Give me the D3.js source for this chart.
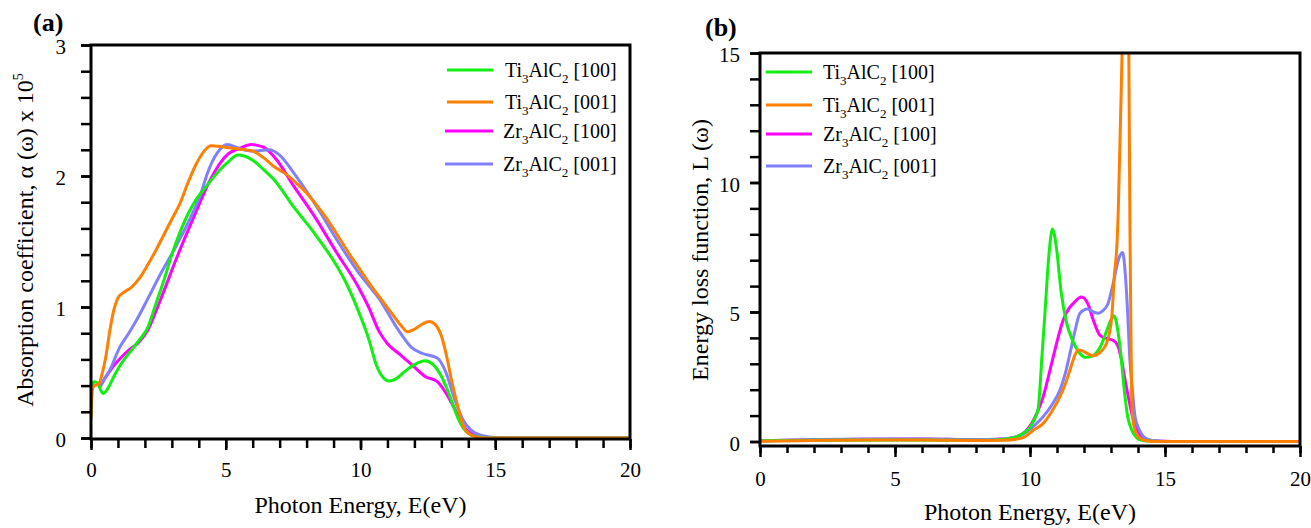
<!DOCTYPE html>
<html>
<head>
<meta charset="utf-8">
<script src="https://cdn.jsdelivr.net/npm/d3@7"></script>
<style>
  body { margin: 0; background: #fff; }
  svg { display: block; }
  text { font-family: "Liberation Serif", "Times New Roman", serif; fill: #000; }
</style>
</head>
<body>
<svg id="chart" width="1311" height="528"></svg>
<script>
// Legend labels: alternating normal / subscript pieces
const legendLabels = [
  ["Ti", "3", "AlC", "2", " [100]"],
  ["Ti", "3", "AlC", "2", " [001]"],
  ["Zr", "3", "AlC", "2", " [100]"],
  ["Zr", "3", "AlC", "2", " [001]"]
];
const seriesColors = ["#12ee12", "#ff7f00", "#ff00ff", "#8080ff"];
const drawOrder = [2, 3, 0, 1];

const xMajorTicks = [0, 5, 10, 15, 20];
const absYTicks = [0, 1, 2, 3];
const elfYTicks = [0, 5, 10, 15];

// (a) Absorption coefficient (x 10^5 cm^-1) vs photon energy (eV)
const absTi100 = [[0,0.17],[0.05,0.40],[0.12,0.43],[0.25,0.42],[0.35,0.37],[0.46,0.34],[0.6,0.37],[0.9,0.49],
  [1.2,0.59],[1.5,0.67],[1.8,0.75],[2.1,0.84],[2.4,1.02],[2.7,1.20],[3.0,1.40],[3.3,1.57],[3.6,1.71],[3.9,1.82],
  [4.2,1.90],[4.5,1.98],[4.8,2.05],[5.1,2.11],[5.45,2.16],[6.0,2.12],[6.4,2.05],[6.8,1.97],[7.5,1.77],[8.3,1.56],
  [9.1,1.32],[9.5,1.17],[9.9,0.98],[10.3,0.76],[10.6,0.55],[10.85,0.46],[11.05,0.435],[11.3,0.45],[11.6,0.50],
  [12.0,0.56],[12.4,0.59],[12.7,0.56],[12.95,0.49],[13.2,0.38],[13.4,0.27],[13.6,0.16],[13.8,0.08],[14.0,0.035],
  [14.3,0.01],[14.7,0],[20,0]];
const absTi001 = [[0,0.15],[0.05,0.37],[0.12,0.40],[0.28,0.41],[0.4,0.48],[0.55,0.62],[0.7,0.82],[0.85,0.98],
  [1.0,1.07],[1.2,1.11],[1.5,1.15],[1.8,1.22],[2.1,1.32],[2.4,1.43],[2.7,1.55],[3.0,1.67],[3.3,1.79],[3.6,1.95],
  [3.9,2.09],[4.2,2.19],[4.45,2.23],[4.8,2.225],[5.1,2.215],[5.5,2.205],[6.0,2.19],[6.4,2.14],[6.8,2.07],[7.2,2.02],
  [7.6,1.95],[8.0,1.87],[8.4,1.77],[8.8,1.66],[9.2,1.53],[9.6,1.40],[10.0,1.28],[10.4,1.16],[10.8,1.05],[11.2,0.94],
  [11.5,0.86],[11.75,0.81],[12.0,0.83],[12.3,0.87],[12.55,0.89],[12.8,0.86],[13.0,0.78],[13.2,0.62],[13.4,0.42],
  [13.6,0.25],[13.8,0.10],[14.0,0.035],[14.3,0.008],[14.6,0],[20,0]];
const absZr100 = [[0.3,0.38],[0.5,0.45],[0.8,0.54],[1.1,0.61],[1.4,0.67],[1.77,0.73],[2.1,0.82],[2.55,1.04],
  [3.17,1.37],[3.8,1.68],[4.4,1.96],[4.8,2.10],[5.1,2.17],[5.5,2.21],[5.95,2.24],[6.4,2.22],[6.9,2.12],[7.5,1.93],
  [8.3,1.69],[9.1,1.42],[9.9,1.16],[10.3,1.00],[10.7,0.81],[11.0,0.72],[11.45,0.64],[11.9,0.56],[12.4,0.47],
  [12.85,0.43],[13.15,0.35],[13.5,0.22],[13.8,0.095],[14.1,0.035],[14.4,0.012],[14.8,0.003],[15.2,0],[20,0]];
const absZr001 = [[0.3,0.38],[0.5,0.45],[0.7,0.52],[1.06,0.69],[1.4,0.80],[1.77,0.93],[2.1,1.06],[2.55,1.24],
  [3.17,1.47],[3.8,1.73],[4.1,1.88],[4.3,2.01],[4.5,2.11],[4.7,2.18],[5.05,2.24],[5.5,2.21],[6.0,2.19],[6.6,2.20],
  [7.0,2.16],[7.5,2.03],[8.3,1.79],[9.1,1.52],[9.9,1.27],[10.7,1.06],[11.45,0.81],[11.9,0.69],[12.3,0.645],
  [12.85,0.61],[13.15,0.51],[13.5,0.29],[13.8,0.14],[14.1,0.06],[14.4,0.025],[14.9,0.005],[15.3,0],[20,0]];

// (b) Energy loss function L(ω) vs photon energy (eV)
const elfTi100 = [[0,0.03],[2,0.05],[5,0.06],[7,0.05],[8.5,0.05],[9.0,0.08],[9.5,0.18],[9.8,0.35],[10.0,0.55],
  [10.2,0.95],[10.3,1.25],[10.45,3.4],[10.55,4.9],[10.7,7.2],[10.83,8.2],[10.92,7.9],[11.0,7.3],[11.15,5.8],
  [11.35,4.6],[11.6,3.85],[11.85,3.4],[12.05,3.25],[12.3,3.3],[12.6,3.65],[12.85,4.3],[13.0,4.7],[13.12,4.85],
  [13.25,4.3],[13.35,3.5],[13.5,1.9],[13.62,0.95],[13.77,0.44],[13.95,0.15],[14.1,0.06],[14.4,0.02],[15,0],[20,0]];
const elfTi001 = [[0,0.01],[2,0.04],[4,0.06],[6,0.06],[8,0.04],[9.0,0.05],[9.7,0.13],[10.15,0.45],[10.49,0.70],
  [10.8,1.15],[11.11,1.73],[11.3,2.2],[11.48,2.76],[11.65,3.3],[11.79,3.53],[11.95,3.5],[12.15,3.38],[12.34,3.31],
  [12.6,3.45],[12.84,3.8],[13.03,4.82],[13.12,6.36],[13.23,7.8],[13.27,8.94],[13.41,15],[13.55,22],[13.66,15],
  [13.7,8.5],[13.74,4.0],[13.77,1.5],[13.85,0.6],[14.0,0.2],[14.19,0.06],[14.5,0.01],[15,0],[20,0]];
const elfZr100 = [[0,0.03],[2,0.07],[4,0.09],[6,0.1],[8,0.07],[9.0,0.1],[9.4,0.15],[9.85,0.4],[10.3,1.2],
  [10.49,1.73],[10.68,2.5],[10.86,3.27],[11.05,4.05],[11.23,4.69],[11.45,5.15],[11.6,5.33],[11.91,5.58],
  [12.15,5.3],[12.34,4.7],[12.59,4.1],[12.84,3.98],[13.09,3.9],[13.25,3.7],[13.4,3.1],[13.5,2.5],[13.64,1.73],
  [13.8,0.95],[13.95,0.44],[14.15,0.15],[14.46,0.04],[15,0.01],[15.5,0],[20,0]];
const elfZr001 = [[0,0.03],[2,0.08],[4,0.1],[6,0.1],[8,0.07],[9.0,0.1],[9.7,0.26],[10.15,0.6],[10.49,0.96],
  [10.8,1.4],[11.11,1.99],[11.3,2.6],[11.48,3.4],[11.65,4.2],[11.85,4.95],[12.12,5.12],[12.35,5.0],[12.53,4.95],
  [12.7,5.05],[12.88,5.3],[13.08,6.1],[13.3,7.1],[13.43,7.3],[13.52,6.6],[13.6,5.3],[13.7,3.15],[13.8,1.9],
  [13.89,0.96],[14.05,0.45],[14.2,0.19],[14.4,0.07],[14.8,0.02],[15.3,0],[20,0]];

const svg = d3.select("#chart");

function drawPanel(p) {
  const x = d3.scaleLinear().domain([0, 20]).range([p.left, p.right]);
  const y = d3.scaleLinear().domain([0, p.ymax]).range([p.zero, p.top]);

  svg.append("clipPath").attr("id", "clip-" + p.id)
    .append("rect")
    .attr("x", p.left).attr("y", p.top)
    .attr("width", p.right - p.left).attr("height", p.axisY - p.top);

  const line = d3.line().x(d => x(d[0])).y(d => y(d[1])).curve(d3.curveMonotoneX);
  const curves = svg.append("g").attr("clip-path", `url(#clip-${p.id})`);
  drawOrder.forEach(i => {
    curves.append("path")
      .datum(p.series[i])
      .attr("d", line)
      .attr("fill", "none")
      .attr("stroke", seriesColors[i])
      .attr("stroke-width", 3)
      .attr("stroke-linejoin", "round");
  });

  // bottom axis: minor ticks every 1 eV, labelled majors every 5 eV
  const xMinor = svg.append("g").attr("transform", `translate(0,${p.axisY})`)
    .call(d3.axisBottom(x).tickValues(d3.range(0, 21, 1)).tickSize(p.xMinorLen).tickFormat(""));
  const xMajor = svg.append("g").attr("transform", `translate(0,${p.axisY})`)
    .call(d3.axisBottom(x).tickValues(xMajorTicks).tickSize(p.xMajorLen).tickFormat(d3.format("d")));
  xMajor.selectAll("text").attr("y", p.xLabelY - p.axisY).attr("dy", 0).style("font-size", "21px");

  // left axis
  const yMinor = svg.append("g").attr("transform", `translate(${p.left},0)`)
    .call(d3.axisLeft(y).tickValues(p.yMinor).tickSize(10).tickFormat(""));
  const yMajor = svg.append("g").attr("transform", `translate(${p.left},0)`)
    .call(d3.axisLeft(y).tickValues(p.yTicks).tickSize(10).tickFormat(d3.format("d")));
  yMajor.selectAll("text").attr("x", p.yLabelX - p.left).attr("dy", "0.42em").style("font-size", "21px");

  [xMinor, xMajor, yMinor, yMajor].forEach(a => {
    a.select(".domain").remove();
    a.selectAll(".tick line").attr("stroke", "#000").attr("stroke-width", 2.5);
  });

  // frame
  const frame = svg.append("g").attr("stroke", "#000").attr("stroke-width", 3).attr("fill", "none");
  frame.append("path").attr("d",
    `M${p.left},${p.top}H${p.right}V${p.axisY}H${p.left}Z`);

  // legend
  legendLabels.forEach((parts, i) => {
    const ly = p.legendY[i];
    svg.append("line")
      .attr("x1", p.legendX1[i]).attr("x2", p.legendX2)
      .attr("y1", ly).attr("y2", ly)
      .attr("stroke", seriesColors[i]).attr("stroke-width", 3);
    const t = svg.append("text")
      .attr("x", p.legendTextX[i]).attr("y", ly + 7)
      .style("font-size", "20px");
    parts.forEach((s, k) => {
      if (k % 2 === 1) {
        t.append("tspan").attr("dy", 6).style("font-size", "13px").text(s);
      } else {
        t.append("tspan").attr("dy", k === 0 ? 0 : -6).text(s);
      }
    });
  });

  // axis titles and panel tag
  svg.append("text")
    .attr("x", (p.left + p.right) / 2).attr("y", p.xTitleY)
    .attr("text-anchor", "middle").style("font-size", "24px")
    .text("Photon Energy, E(eV)");

  const yt = svg.append("text")
    .attr("transform", `translate(${p.yTitleX},${p.yTitleY}) rotate(-90)`)
    .attr("text-anchor", "middle").style("font-size", "24px");
  p.yTitle(yt);

  svg.append("text")
    .attr("x", p.tagX).attr("y", p.tagY)
    .style("font-size", "26px").style("font-weight", "bold")
    .text(p.tag);
}

drawPanel({
  id: "a", tag: "(a)", tagX: 33, tagY: 31,
  left: 91, right: 630, top: 45, zero: 438, axisY: 439, ymax: 3,
  series: [absTi100, absTi001, absZr100, absZr001],
  yTicks: absYTicks, yMinor: d3.range(0, 3.01, 0.2).map(v => +v.toFixed(1)),
  xMinorLen: 9, xMajorLen: 11, xLabelY: 477, yLabelX: 66,
  xTitleY: 513, yTitleX: 33, yTitleY: 240,
  yTitle: t => {
    t.append("tspan").text("Absorption coefficient, α (ω) x 10");
    t.append("tspan").attr("dy", -10).style("font-size", "14px").text("5");
  },
  legendY: [70, 102, 131, 164], legendX1: [447, 447, 445, 445], legendX2: 493,
  legendTextX: [505, 505, 503, 503]
});

drawPanel({
  id: "b", tag: "(b)", tagX: 705, tagY: 36,
  left: 760, right: 1300, top: 53, zero: 441.5, axisY: 446, ymax: 15,
  series: [elfTi100, elfTi001, elfZr100, elfZr001],
  yTicks: elfYTicks, yMinor: d3.range(0, 16, 1),
  xMinorLen: 7, xMajorLen: 11, xLabelY: 486, yLabelX: 740,
  xTitleY: 520, yTitleX: 708, yTitleY: 250,
  yTitle: t => t.text("Energy loss function, L (ω)"),
  legendY: [72, 105, 134, 166], legendX1: [766, 766, 766, 766], legendX2: 812,
  legendTextX: [823, 823, 823, 823]
});
</script>
</body>
</html>
